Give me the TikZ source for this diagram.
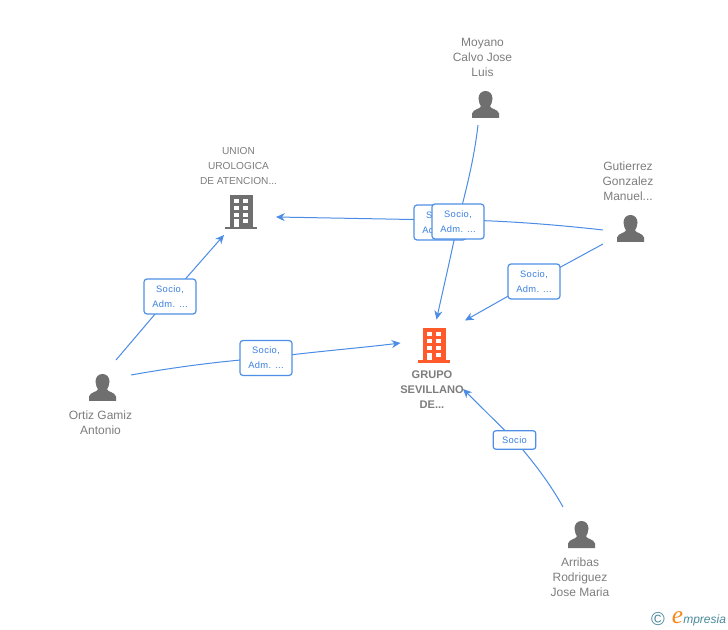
\documentclass[tikz,border=0pt]{standalone}
\usepackage{fontspec}
\setmainfont{Liberation Sans}
\newfontfamily\labfont[LetterSpace=4]{Liberation Sans}
\newfontfamily\serifit{Liberation Serif}
\usetikzlibrary{arrows.meta}
\definecolor{linkblue}{HTML}{4A8CE6}
\definecolor{boxblue}{HTML}{4F8FE6}
\definecolor{labtext}{HTML}{3A7FDF}
\definecolor{greytext}{HTML}{7E7E7E}
\definecolor{icongrey}{HTML}{6F6F6F}
\definecolor{orangeb}{HTML}{FF5A2B}
\definecolor{logoteal}{HTML}{4A8A9C}
\definecolor{logoorange}{HTML}{F28A1E}
\tikzset{
  x=0.75pt,y=-0.75pt,
  conn/.style={draw=linkblue,line width=0.75pt,-{Stealth[length=6.6pt,width=6pt]}},
  linkbox/.style={draw=boxblue,fill=white,line width=0.9pt,rounded corners=2.2pt,minimum width=39pt,minimum height=26.2pt,inner sep=0pt,align=center,text=labtext,font=\labfont\fontsize{7}{11.25}\selectfont},
  smallbox/.style={linkbox,minimum width=32pt,minimum height=14pt},
  who/.style={inner sep=0pt,align=center,text=greytext,font=\fontsize{9}{11.25}\selectfont},
  firm/.style={who,font=\fontsize{7.6}{11.25}\selectfont},
  main/.style={who,font=\bfseries\fontsize{8.3}{11.25}\selectfont},
  iconspot/.style={inner sep=0pt,minimum size=0pt},
  pics/person/.style={code={
    \fill[icongrey] (-7,-6) .. controls (-7,-10.5) and (-4,-13.5) .. (0,-13.5)
      .. controls (4,-13.5) and (7,-10.5) .. (7,-6)
      .. controls (7,-2.5) and (5.5,0) .. (4.6,1.8)
      .. controls (4.8,4.5) and (12.5,4.5) .. (13.5,9) -- (13.5,13.5) -- (-13.5,13.5) -- (-13.5,9)
      .. controls (-12.5,4.5) and (-4.8,4.5) .. (-4.6,1.8)
      .. controls (-5.5,0) and (-7,-2.5) .. (-7,-6) -- cycle;
  }},
  pics/building/.style={code={
    \fill[#1] (-11.5,-17) rectangle (11.5,15);
    \fill[#1] (-16,15) rectangle (16,17.2);
    \foreach \r in {-13,-6,1} {
      \fill[white] (-7.5,\r) rectangle (-2.5,\r+4);
      \fill[white] (2,\r) rectangle (7,\r+4);
    }
    \fill[white] (-7.5,7.5) rectangle (-2.5,15);
    \fill[white] (2,7.5) rectangle (7,11.5);
  }}
}
\begin{document}
\begin{tikzpicture}
\useasboundingbox (0,0) rectangle (728,630);
\fill[white] (0,0) rectangle (728,630);

% icons
\node[iconspot] (moyano) at (485.5,104.5) {};
\pic at (moyano) {person};
\node[iconspot] (gutierrez) at (630.5,228.5) {};
\pic at (gutierrez) {person};
\node[iconspot] (ortiz) at (102.5,387.5) {};
\pic at (ortiz) {person};
\node[iconspot] (arribas) at (581.5,534.5) {};
\pic at (arribas) {person};
\node[iconspot] (union) at (241,212) {};
\pic at (union) {building=icongrey};
\node[iconspot] (grupo) at (434,345.5) {};
\pic at (grupo) {building=orangeb};

% names
\node[who] (tmoyano) at (482.5,57) {Moyano\\Calvo Jose\\Luis};
\node[who] (tgut) at (628,181) {Gutierrez\\Gonzalez\\Manuel...};
\node[firm] (tunion) at (238.5,166) {UNION\\UROLOGICA\\DE ATENCION...};
\node[main] (tgrupo) at (432,390) {GRUPO\\SEVILLANO\\DE...};
\node[who] (tortiz) at (100.5,422.5) {Ortiz Gamiz\\Antonio};
\node[who] (tarribas) at (580,577) {Arribas\\Rodriguez\\Jose Maria};

% connector ends
\coordinate (moyanoS) at (478,125);
\coordinate (gutA) at (603,230);
\coordinate (gutB) at (603,244);
\coordinate (ortizA) at (116,360);
\coordinate (ortizB) at (131,375);
\coordinate (arribasS) at (563,507);
\coordinate (grupoN) at (436.5,319.5);
\coordinate (grupoE) at (465,320.5);
\coordinate (grupoW) at (400.5,343);
\coordinate (grupoS) at (463,389);
\coordinate (unionE) at (276,217);
\coordinate (unionS) at (224,235);

% link labels positions
\coordinate (pa) at (440,222.5);
\coordinate (paline) at (440,220);
\coordinate (pb) at (458,221.5);
\coordinate (pc) at (534,281.5);
\coordinate (pd) at (170,296.5);
\coordinate (pe) at (266,358);
\coordinate (pf) at (514.5,440);

% connectors
\draw[conn] (gutA) .. controls (550,224) and (490,219.5) .. (paline) -- (unionE);
\draw[conn] (moyanoS) .. controls (474,160) and (466,190) .. (pb) .. controls (450,260) and (443,290) .. (grupoN);
\draw[conn] (gutB) -- (pc) -- (grupoE);
\draw[conn] (ortizA) -- (pd) -- (unionS);
\draw[conn] (ortizB) .. controls (170,368) and (220,361) .. (pe) .. controls (310,352) and (360,348) .. (grupoW);
\draw[conn] (arribasS) .. controls (548,480) and (530,458) .. (pf) -- (grupoS);

% link labels
\node[linkbox] (la) at (pa) {Socio,\\Adm. ...};
\node[linkbox] (lb) at (pb) {Socio,\\Adm. ...};
\node[linkbox] (lc) at (pc) {Socio,\\Adm. ...};
\node[linkbox] (ld) at (pd) {Socio,\\Adm. ...};
\node[linkbox] (le) at (pe) {Socio,\\Adm. ...};
\node[smallbox] (lf) at (pf) {Socio};

% logo
\node[inner sep=0pt,text=logoteal,font=\fontsize{14}{14}\selectfont] (copy) at (658,619) {©};
\node[inner sep=0pt,text=logoorange,font=\serifit\itshape\fontsize{19}{19}\selectfont] (logoe) at (677.5,617.5) {e};
\node[inner sep=0pt,anchor=west,text=logoteal,font=\itshape\fontsize{9}{10}\selectfont] (logot) at (683,620) {mpresia};
\end{tikzpicture}
\end{document}
